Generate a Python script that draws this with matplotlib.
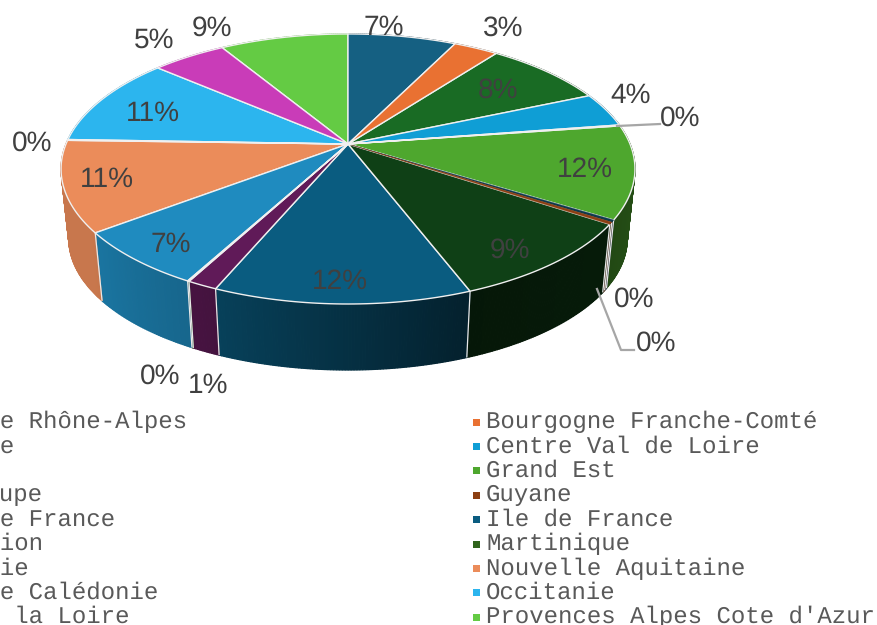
import numpy as np
import matplotlib
matplotlib.use("Agg")
import matplotlib.pyplot as plt
from matplotlib.patches import Polygon, Rectangle

plt.rcParams["text.hinting"] = "none"
plt.rcParams["text.hinting_factor"] = 1

regions = ["Auvergne Rhône-Alpes", "Bourgogne Franche-Comté", "Bretagne", "Centre Val de Loire",
           "Corse", "Grand Est", "Guadeloupe", "Guyane", "Hauts de France", "Ile de France",
           "La Réunion", "Martinique", "Normandie", "Nouvelle Aquitaine", "Nouvelle Calédonie",
           "Occitanie", "Pays de la Loire", "Provences Alpes Cote d'Azur"]
values = [7.3, 3.0, 8.2, 4.1, 0.12, 11.1, 0.25, 0.25, 9.85, 12.2, 1.45, 0.08, 6.75, 10.8, 0.1, 10.8, 5.0, 8.65]
percent_labels = ["7%", "3%", "8%", "4%", "0%", "12%", "0%", "0%", "9%", "12%", "1%", "0%", "7%", "11%", "0%", "11%", "5%", "9%"]
colors = ["#156082", "#E97132", "#196B24", "#0F9ED5", "#A02B93", "#4EA72E", "#0D3A4E", "#8C3F12", "#0F4016",
          "#0A5C80", "#601A58", "#2F641C", "#1F8BBF", "#EB8C5A", "#6FC7A0", "#2CB5EE", "#C93CB8", "#64CB44"]
label_pos = [(384, 26), (503, 26), (498, 88), (631, 94), (680, 116), (585, 168), (634, 297), (656, 341), (510, 248),
             (340, 280), (208, 384), (160, 374), (171, 243), (107, 178), (32, 141), (153, 112), (154, 38), (212, 26)]

W, H = 877, 625
fig = plt.figure(figsize=(W / 100, H / 100), dpi=100)
ax = fig.add_axes([0, 0, 1, 1])
ax.set_xlim(0, W)
ax.set_ylim(H, 0)
ax.axis("off")

# perspective disc: centre of the pie, radii and tilt
CX, CY, A, B, K = 348.0, 144.0, 282.0, 130.4, 0.185
S, VY = 0.973, 2748.0


def top(theta):
    s, c = np.cos(theta), np.sin(theta)
    w = 1 + K * s
    return CX + A * c / w, CY - B * s / w


def bottom(theta):
    x, y = top(theta)
    return CX + S * (x - CX), VY + S * (y - VY)


def shade(theta):
    return np.interp(np.degrees(theta), [0, 90, 160, 205, 235, 270, 360],
                     [0.5, 0.5, 0.36, 0.72, 0.85, 0.85, 0.85])


fractions = np.array(values) / sum(values)
edges = np.concatenate([[0], np.cumsum(fractions)]) * 2 * np.pi

# side walls
for i, col in enumerate(colors):
    n = max(2, int(np.degrees(edges[i + 1] - edges[i]) * 2) + 1)
    th = np.linspace(edges[i], edges[i + 1], n + 1)
    rgb = np.array(matplotlib.colors.to_rgb(col))
    for t0, t1 in zip(th[:-1], th[1:]):
        xa, ya = top(np.array([t0, t1]))
        xb, yb = bottom(np.array([t1, t0]))
        c = rgb * shade((t0 + t1) / 2)
        ax.add_patch(Polygon(np.c_[np.r_[xa, xb], np.r_[ya, yb]], closed=True, facecolor=c, edgecolor=c, lw=0.9, zorder=1))
for e in edges[:-1]:
    deg = np.degrees(e) % 360
    if 100 < deg < 262:
        xa, ya = top(e)
        xb, yb = bottom(e)
        ax.plot([xa, xb], [ya, yb], color="#E8E8E8", lw=0.9, zorder=2, solid_capstyle="butt")

# top faces: wide slices first, slivers after so their colour stays visible
for i in sorted(range(len(colors)), key=lambda j: -values[j]):
    col = colors[i]
    n = max(2, int(np.degrees(edges[i + 1] - edges[i])) + 1)
    th = np.linspace(edges[i], edges[i + 1], n + 1)
    x, y = top(th)
    thin = 0.2 < values[i] < 1
    ax.add_patch(Polygon(np.c_[np.r_[CX, x], np.r_[CY, y]], closed=True, facecolor=col,
                         edgecolor=col if thin else "#F0F0F0", lw=0.3 if thin else 1.0,
                         joinstyle="round", zorder=3))

# leader lines
ax.plot([617, 660], [126, 124], color="#A6A6A6", lw=1.6, zorder=4)
ax.plot([597, 621, 634], [289, 350, 350], color="#A6A6A6", lw=1.6, zorder=4)

# percentage labels
for txt, (x, y) in zip(percent_labels, label_pos):
    ax.text(x, y + 2, txt, family="Liberation Sans", fontsize=20, color="#404040",
            ha="center", va="center", zorder=5)

# legend, two columns, filled row by row; left column runs off the canvas as in the original
col_text_x = [-101, 486]
row_y = 422.0
row_step = 24.4
for i, (name, col) in enumerate(zip(regions, colors)):
    tx = col_text_x[i % 2]
    y = row_y + (i // 2) * row_step
    ax.add_patch(Rectangle((tx - 13.5, y - 3.5), 7, 7, facecolor=col, edgecolor="none", zorder=5))
    ax.text(tx, y, name, family="Liberation Mono", fontsize=17.2, color="#595959", ha="left", va="center", zorder=5)

fig.savefig("out.png", dpi=100)
